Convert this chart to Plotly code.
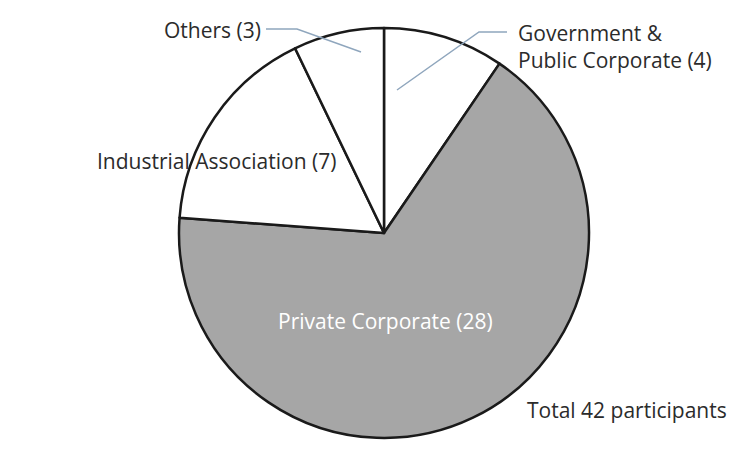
import plotly.graph_objects as go

categories = ["Government &<br>Public Corporate", "Private Corporate", "Industrial Association", "Others"]
values = [4, 28, 7, 3]
colors = ["#ffffff", "#a6a6a6", "#ffffff", "#ffffff"]
total_label = "Total 42 participants"

W, H = 750, 456
OFF = 8  # page body margin offset
cx, cy, R = 384, 233, 205

def px(x):
    return (x - OFF) / W

def py(y):
    return 1 - (y - OFF) / H

fig = go.Figure(go.Pie(
    labels=categories,
    values=values,
    sort=False,
    direction="clockwise",
    rotation=0,
    textinfo="none",
    hoverinfo="label+value",
    marker=dict(colors=colors, line=dict(color="#1a1a1a", width=2.5)),
    domain=dict(x=[px(cx - R), px(cx + R)], y=[py(cy + R), py(cy - R)]),
    showlegend=False,
))

FS = 21
font = dict(family="Open Sans, DejaVu Sans, sans-serif", size=FS, color="#2b2b2b")

ann = []
ann.append(dict(x=px(263), y=py(30), xanchor="right", yanchor="middle",
                text=f"{categories[3]} ({values[3]})", showarrow=False, font=font))
ann.append(dict(x=px(516), y=py(47), xanchor="left", yanchor="middle",
                text=f"{categories[0]} ({values[0]})", showarrow=False, font=font, align="left"))
ann.append(dict(x=px(95), y=py(161), xanchor="left", yanchor="middle",
                text=f"{categories[2]} ({values[2]})", showarrow=False, font=font))
ann.append(dict(x=px(385), y=py(321), xanchor="center", yanchor="middle",
                text=f"{categories[1]} ({values[1]})", showarrow=False,
                font=dict(family=font["family"], size=FS, color="#ffffff")))
ann.append(dict(x=px(525), y=py(410), xanchor="left", yanchor="middle",
                text=total_label, showarrow=False, font=font))

line_col = "#8fa6bd"
shapes = [
    dict(type="path", xref="paper", yref="paper",
         path=f"M {px(266)} {py(29)} L {px(297)} {py(29)} L {px(361)} {py(52)}",
         line=dict(color=line_col, width=1.5)),
    dict(type="path", xref="paper", yref="paper",
         path=f"M {px(397)} {py(90)} L {px(479)} {py(32)} L {px(507)} {py(32)}",
         line=dict(color=line_col, width=1.5)),
]

fig.update_layout(
    width=W, height=H,
    margin=dict(l=0, r=0, t=0, b=0),
    paper_bgcolor="#ffffff",
    plot_bgcolor="#ffffff",
    annotations=ann,
    shapes=shapes,
)

fig.write_html("out.html")
